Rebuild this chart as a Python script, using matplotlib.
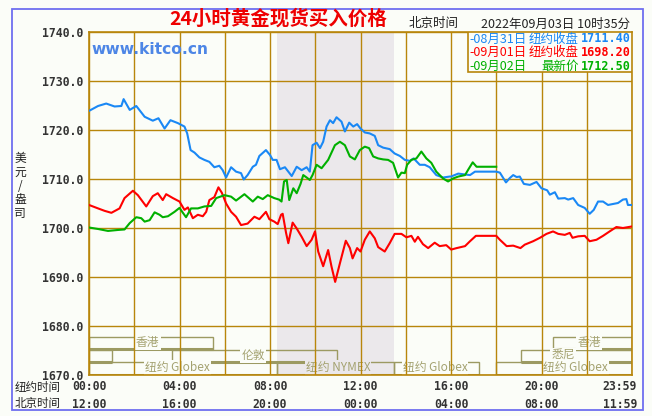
import matplotlib
matplotlib.use("Agg")
import matplotlib.pyplot as plt
from matplotlib.patches import Rectangle
from matplotlib.transforms import blended_transform_factory

plt.rcParams['font.family'] = ['Noto Sans CJK SC', 'DejaVu Sans']

# ---------------- data (hours in New York time, price USD/oz) ----------------
blue_h = [0, 0.4, 0.76, 1.13, 1.43, 1.53, 1.8, 2.09, 2.46, 2.82, 3.07, 3.34, 3.6, 3.93, 4.22, 4.34,
          4.49, 4.66, 4.88, 5.1, 5.32, 5.54, 5.76, 5.91, 6.06, 6.28, 6.5, 6.72, 6.84, 7.01, 7.24,
          7.38, 7.53, 7.82, 8.0, 8.12, 8.29, 8.44, 8.66, 8.96, 9.18, 9.4, 9.62, 9.76, 9.88, 10.06,
          10.21, 10.35, 10.5, 10.65, 10.79, 10.94, 11.16, 11.31, 11.5, 11.68, 11.85, 12.0, 12.19,
          12.41, 12.63, 12.78, 13.0, 13.29, 13.51, 13.74, 13.96, 14.18, 14.35, 14.62, 14.84, 15.06,
          15.35, 15.65, 15.94, 16.0, 16.32, 16.84, 17.06, 18.0, 18.16, 18.43, 18.6, 18.75, 18.9,
          19.04, 19.22, 19.49, 19.78, 20.0, 20.25, 20.37, 20.59, 20.74, 21.03, 21.18, 21.4, 21.62,
          21.91, 22.13, 22.31, 22.5, 22.72, 22.94, 23.16, 23.38, 23.6, 23.75, 23.82, 23.98]
blue_p = [1723.9, 1724.9, 1725.4, 1724.8, 1724.9, 1726.3, 1724.1, 1724.9, 1722.7, 1721.9, 1722.4,
          1720.3, 1722.0, 1721.4, 1720.7, 1719.3, 1715.9, 1715.4, 1714.4, 1713.9, 1713.5, 1712.4,
          1712.7, 1711.8, 1710.3, 1712.4, 1711.5, 1711.2, 1709.9, 1710.8, 1712.5, 1712.9, 1714.7,
          1715.9, 1714.9, 1713.9, 1713.9, 1712.0, 1712.4, 1710.6, 1712.5, 1711.8, 1712.4, 1711.5,
          1716.9, 1717.4, 1716.3, 1717.6, 1720.7, 1722.0, 1721.4, 1722.6, 1721.7, 1719.7, 1721.5,
          1720.7, 1721.2, 1720.3, 1719.5, 1719.3, 1718.8, 1716.9, 1716.4, 1716.1, 1715.2, 1714.7,
          1713.9, 1713.7, 1714.2, 1712.9, 1712.9, 1712.4, 1710.8, 1710.3, 1710.5, 1710.5, 1711.1,
          1710.8, 1711.5, 1711.5, 1711.3, 1709.3, 1710.2, 1710.8, 1710.4, 1710.5, 1709.0, 1708.8,
          1709.4, 1708.1, 1707.7, 1706.8, 1707.3, 1706.0, 1706.1, 1705.8, 1706.1, 1704.7, 1704.1,
          1702.9, 1703.7, 1705.4, 1705.4, 1704.7, 1704.9, 1705.1, 1705.8, 1705.9, 1704.7, 1704.7]

red_h = [0, 0.4, 0.69, 0.99, 1.35, 1.57, 1.94, 2.16, 2.53, 2.82, 3.04, 3.26, 3.41, 3.71, 4.0, 4.22,
         4.37, 4.59, 4.81, 5.03, 5.18, 5.32, 5.54, 5.72, 5.87, 6.06, 6.28, 6.5, 6.72, 7.01, 7.31,
         7.53, 7.82, 7.97, 8.19, 8.34, 8.49, 8.56, 8.71, 8.81, 9.0, 9.18, 9.4, 9.62, 9.84, 9.99,
         10.13, 10.35, 10.57, 10.72, 10.88, 11.09, 11.35, 11.53, 11.65, 11.85, 12.0, 12.19, 12.41,
         12.63, 12.78, 13.07, 13.29, 13.51, 13.81, 14.03, 14.25, 14.4, 14.54, 14.76, 14.99, 15.28,
         15.5, 15.79, 16.01, 16.25, 16.62, 16.84, 17.1, 18.0, 18.16, 18.46, 18.75, 19.07, 19.26,
         19.63, 19.93, 20.22, 20.51, 20.74, 21.03, 21.25, 21.37, 21.62, 21.91, 22.13, 22.43, 22.72,
         23.01, 23.31, 23.6, 23.98]
red_p = [1704.7, 1704.0, 1703.5, 1703.1, 1704.0, 1706.1, 1707.6, 1706.7, 1704.4, 1706.5, 1707.1,
         1705.7, 1706.9, 1706.1, 1705.4, 1703.7, 1704.2, 1702.0, 1702.7, 1702.4, 1703.3, 1705.7,
         1706.3, 1708.3, 1707.2, 1705.0, 1703.3, 1702.3, 1700.6, 1700.9, 1702.3, 1701.8, 1703.3,
         1701.8, 1701.3, 1700.8, 1702.7, 1702.9, 1699.0, 1696.9, 1701.1, 1699.9, 1698.2, 1696.3,
         1697.6, 1699.3, 1695.2, 1692.2, 1695.5, 1692.1, 1689.0, 1692.8, 1697.4, 1695.9, 1693.8,
         1695.9, 1695.2, 1697.6, 1699.3, 1697.9, 1696.1, 1695.2, 1696.9, 1698.8, 1698.8, 1698.1,
         1698.4, 1697.2, 1698.2, 1696.7, 1695.9, 1697.0, 1696.3, 1696.5, 1695.6, 1695.9, 1696.3,
         1697.3, 1698.4, 1698.4, 1697.6, 1696.3, 1696.4, 1695.9, 1696.6, 1697.3, 1698.0, 1698.8,
         1699.3, 1698.8, 1698.6, 1699.0, 1698.0, 1698.3, 1698.4, 1697.3, 1697.6, 1698.4, 1699.3,
         1700.2, 1700.0, 1700.3]

green_h = [0, 0.4, 0.84, 1.28, 1.57, 1.8, 2.09, 2.31, 2.46, 2.68, 2.9, 3.12, 3.26, 3.49, 3.78, 4.0,
           4.15, 4.29, 4.51, 4.81, 5.1, 5.4, 5.62, 5.99, 6.28, 6.5, 6.87, 7.24, 7.46, 7.68, 7.9,
           8.19, 8.4, 8.51, 8.62, 8.74, 8.85, 9.03, 9.18, 9.35, 9.47, 9.62, 9.76, 9.88, 10.06, 10.28,
           10.57, 10.87, 11.09, 11.31, 11.53, 11.75, 11.97, 12.19, 12.38, 12.56, 12.78, 13.0, 13.22,
           13.44, 13.66, 13.81, 13.96, 14.06, 14.25, 14.47, 14.69, 14.91, 15.13, 15.35, 15.65, 15.87,
           16.09, 16.32, 16.62, 16.76, 16.96, 17.13, 18.0]
green_p = [1700.1, 1699.8, 1699.4, 1699.6, 1699.7, 1701.0, 1702.2, 1702.0, 1701.3, 1701.6, 1703.2,
           1702.7, 1702.2, 1702.4, 1703.3, 1704.1, 1703.1, 1702.2, 1704.0, 1704.0, 1704.4, 1704.5,
           1706.1, 1706.7, 1706.4, 1705.6, 1706.9, 1705.4, 1706.4, 1705.9, 1706.7, 1706.1, 1705.8,
           1705.4, 1709.5, 1709.8, 1705.7, 1708.1, 1707.1, 1709.0, 1710.8, 1710.3, 1709.8, 1710.8,
           1712.9, 1712.2, 1713.9, 1716.9, 1717.6, 1716.9, 1714.6, 1714.0, 1715.9, 1716.6, 1716.3,
           1714.6, 1714.2, 1714.0, 1713.9, 1713.3, 1710.3, 1711.3, 1711.2, 1712.9, 1713.9, 1714.2,
           1715.6, 1714.2, 1713.3, 1711.5, 1710.1, 1709.5, 1710.1, 1710.5, 1710.8, 1711.9, 1713.4,
           1712.5, 1712.5]

legend_dates = ['-08月31日', '-09月01日', '-09月02日']
legend_kinds = ['纽约收盘', '纽约收盘', '最新价']
legend_values = ['1711.40', '1698.20', '1712.50']

y_ticks = [1670, 1680, 1690, 1700, 1710, 1720, 1730, 1740]
x_ticks = [0, 4, 8, 12, 16, 20, 24]
ny_labels = ['00:00', '04:00', '08:00', '12:00', '16:00', '20:00', '23:59']
bj_labels = ['12:00', '16:00', '20:00', '00:00', '04:00', '08:00', '11:59']

nymex_span = (8.33, 13.5)
# sessions: start, end, row, label, label position (hours)
sess_start = [0, 20.5, 0, 3.65, 19.08, 0, 8.33, 13.5, 18.0]
sess_end = [5.5, 24, 1.0, 10.96, 24, 8.33, 13.5, 17.25, 24]
sess_row = [0, 0, 1, 1, 1, 2, 2, 2, 2]
sess_label = ['香港', '香港', '', '伦敦', '悉尼', '纽约 Globex', '纽约 NYMEX', '纽约 Globex', '纽约 Globex']
sess_label_h = [2.6, 22.1, None, 7.25, 20.95, 3.9, 11.0, 15.3, 21.5]
row_top = [1677.8, 1675.2, 1672.6]

# ---------------- styling ----------------
BG = '#fbfdf8'
GOLD = '#b8860b'
SHADE = '#ebe8eb'
OLIVE = '#9c9a62'
BLUE = '#1a88f5'
RED = '#ff0000'
GREEN = '#00b000'
series_colors = [BLUE, RED, GREEN]

W, H = 652, 416
fig = plt.figure(figsize=(W / 100, H / 100), dpi=100, facecolor=BG)

def fx(x):
    return x / W

def fy(y):
    return 1 - y / H

ax = fig.add_axes([fx(89), fy(375), fx(632) - fx(89), fy(32) - fy(375)])
ax.set_facecolor(BG)
ax.set_xlim(0, 24)
ax.set_ylim(1670, 1740)
ax.set_axisbelow(False)
ax.set_xticks(range(0, 25, 2))
ax.set_yticks(y_ticks)
ax.grid(True, color=GOLD, lw=1.0)
ax.tick_params(length=0, labelbottom=False)
for s in ax.spines.values():
    s.set_color(GOLD)
    s.set_linewidth(1.2)
ax.set_yticklabels([f'{v:.1f}' for v in y_ticks], family='DejaVu Sans Mono',
                   fontweight='bold', fontsize=8.3, color='#333333')
ax.tick_params(axis='y', pad=4)

ax.axvspan(*nymex_span, color=SHADE, zorder=0.2, lw=0)

# session bars
for s, e, r, lab, lh in zip(sess_start, sess_end, sess_row, sess_label, sess_label_h):
    top = row_top[r]
    bot = top - 2.5
    ax.plot([s, s, e, e], [bot, top, top, bot], color=OLIVE, lw=1.0, zorder=2.1,
            solid_joinstyle='miter')
    ax.plot([s, e], [bot, bot], color=OLIVE, lw=2.2, zorder=2.1, solid_capstyle='butt')
    if lab:
        bg = SHADE if nymex_span[0] <= lh <= nymex_span[1] else BG
        ax.text(lh, top - 1.15, lab, fontsize=8.5, color='#a4a270', ha='center', va='center',
                zorder=2.2, bbox=dict(boxstyle='square,pad=0.08', fc=bg, ec='none'))

# price lines
for hs, ps, c in zip([blue_h, red_h, green_h], [blue_p, red_p, green_p], series_colors):
    ax.plot(hs, ps, color=c, lw=1.5, zorder=3)

# legend box
ax.add_patch(Rectangle(((468 - 89) / 543, 1 - 40 / 343), 1 - (468 - 89) / 543, 40 / 343,
                       transform=ax.transAxes, fc=BG, ec=GOLD, lw=1.2, zorder=4))
for i, (d, k, v, c) in enumerate(zip(legend_dates, legend_kinds, legend_values, series_colors)):
    yy = fy(39 + 13.5 * i)
    fig.text(fx(469), yy, d, color=c, fontsize=9, ha='left', va='center', zorder=5)
    fig.text(fx(579), yy, k, color=c, fontsize=9, ha='right', va='center', zorder=5)
    fig.text(fx(631), yy, v, color=c, fontsize=8.5, ha='right', va='center', zorder=5,
             family='DejaVu Sans Mono', fontweight='bold')

# watermark
ax.text(0.004, 1 - 18 / 343, 'www.kitco.cn', transform=ax.transAxes, color='#4d86e6',
        fontsize=11.2, fontweight='bold', family='DejaVu Sans', ha='left', va='center', zorder=3)

# titles
fig.text(fx(278), fy(19), '24小时黄金现货买入价格', color='#ee0000', fontsize=14,
         fontweight='bold', ha='center', va='center')
fig.text(fx(409), fy(24), '北京时间', color='#222222', fontsize=9, ha='left', va='center')
fig.text(fx(630), fy(24), '2022年09月03日 10时35分', color='#222222', fontsize=9,
         ha='right', va='center')

# y label
fig.text(fx(20), fy(186), '美\n元\n/\n盎\n司', color='#222222', fontsize=8.5, ha='center',
         va='center', linespacing=1.05)

# x tick rows
trans = blended_transform_factory(ax.transData, fig.transFigure)
fig.text(fx(15), fy(387), '纽约时间', fontsize=8.3, color='#222222', ha='left', va='center')
fig.text(fx(15), fy(404), '北京时间', fontsize=8.3, color='#222222', ha='left', va='center')
for t, a, b in zip(x_ticks, ny_labels, bj_labels):
    xx = t if t < 24 else 23.47
    for lab, yy in ((a, 387), (b, 404)):
        ax.text(xx, fy(yy), lab, transform=trans, family='DejaVu Sans Mono',
                fontweight='bold', fontsize=8.3, color='#333333', ha='center', va='center')

# outer border
fig.add_artist(Rectangle((fx(12), fy(410)), fx(643) - fx(12), fy(9) - fy(410),
                         transform=fig.transFigure, fill=False, ec='#6f6ff0', lw=1.3))

fig.savefig('out.png', dpi=100, facecolor=BG)
